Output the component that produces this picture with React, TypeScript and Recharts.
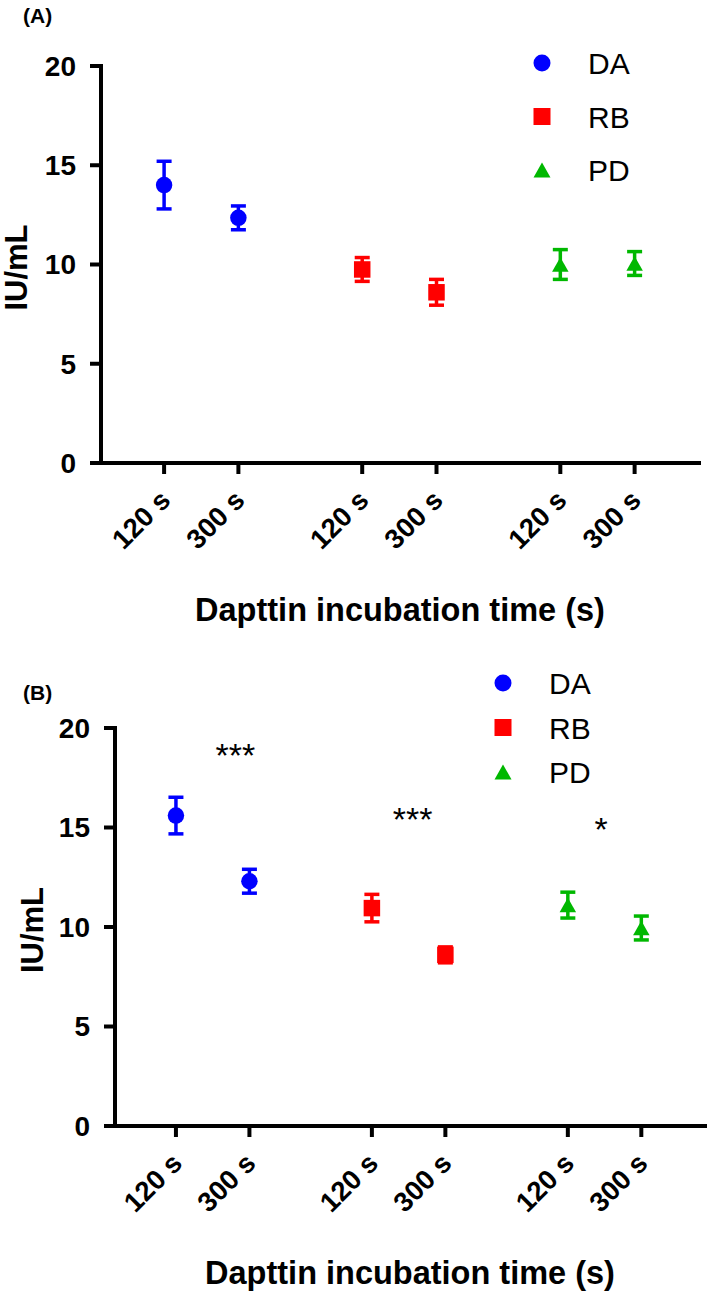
import React from 'react';
import { ScatterChart, Scatter, XAxis, YAxis, ErrorBar, Legend } from 'recharts';

const FONT = '"Liberation Sans", Arial, Helvetica, sans-serif';

// x positions of the six categories (two per group) and their labels
const tickPositions = [0, 0.75, 2, 2.75, 4, 4.75];
const tickLabels = ['120 s', '300 s', '120 s', '300 s', '120 s', '300 s'];
const yTicks = [0, 5, 10, 15, 20];

const seriesNames = ['DA', 'RB', 'PD'];
const seriesColors = ['#0000FF', '#FF0000', '#00B800'];
const seriesShapes = ['circle', 'square', 'triangle'];

// Panel A values (IU/mL) and SD
const aDA = [14.0, 12.35];
const aDAErr = [1.2, 0.6];
const aRB = [9.75, 8.6];
const aRBErr = [0.6, 0.65];
const aPD = [10.0, 10.05];
const aPDErr = [0.75, 0.6];

// Panel B values (IU/mL) and SD
const bDA = [15.6, 12.3];
const bDAErr = [0.92, 0.6];
const bRB = [10.95, 8.6];
const bRBErr = [0.69, 0.4];
const bPD = [11.1, 9.95];
const bPDErr = [0.65, 0.6];

// Panel B significance annotations
const bStars = ['***', '***', '*'];
const bStarX = [0.607, 2.415, 4.34];
const bStarY = [19.0, 15.8, 15.26];

const xDomainA: [number, number] = [-0.637, 5.4];
const xDomainB: [number, number] = [-0.622, 5.4];

const build = (k: number, vals: number[], errs: number[]) =>
  vals.map((v, i) => ({ x: tickPositions[k * 2 + i], y: v, err: errs[i] }));

const drawMarker = (kind: string, color: string, cx: number, cy: number, s: number) => {
  if (kind === 'circle') return <circle cx={cx} cy={cy} r={s / 2} fill={color} />;
  if (kind === 'square') return <rect x={cx - s / 2} y={cy - s / 2} width={s} height={s} fill={color} />;
  const h = s * 0.88;
  return (
    <polygon
      points={`${cx},${cy - h / 2} ${cx - s / 2},${cy + h / 2} ${cx + s / 2},${cy + h / 2}`}
      fill={color}
    />
  );
};

const shapeFor = (kind: string, color: string) => (props: any) => {
  const { cx, cy } = props;
  if (cx == null || cy == null) return <g />;
  return <g>{drawMarker(kind, color, cx, cy, 16.5)}</g>;
};

const StarShape = (props: any) => {
  const { cx, cy, payload } = props;
  return (
    <text x={cx} y={cy + 19} textAnchor="middle" fontFamily={FONT} fontSize={34} fill="#000">
      {payload.label}
    </text>
  );
};

const XTick = (props: any) => {
  const { x, y, payload } = props;
  const i = tickPositions.indexOf(payload.value);
  const ax = x + 8;
  const ay = y + 26;
  return (
    <text
      x={ax}
      y={ay}
      transform={`rotate(-45 ${ax} ${ay})`}
      textAnchor="end"
      fontFamily={FONT}
      fontSize={27.5}
      fontWeight="bold"
      fill="#000"
    >
      {tickLabels[i]}
    </text>
  );
};

const xTitle = (props: any) => {
  const vb = props.viewBox || {};
  return (
    <text
      x={vb.x + vb.width / 2}
      y={vb.y + 158}
      textAnchor="middle"
      fontFamily={FONT}
      fontSize={32.5}
      fontWeight="bold"
      fill="#000"
    >
      Dapttin incubation time (s)
    </text>
  );
};

const yTitle = (bx: number) => (props: any) => {
  const vb = props.viewBox || {};
  const cy = vb.y + vb.height / 2 + 3;
  const x = vb.x + bx;
  return (
    <text
      x={x}
      y={cy}
      transform={`rotate(-90 ${x} ${cy})`}
      textAnchor="middle"
      fontFamily={FONT}
      fontSize={31}
      fontWeight="bold"
      fill="#000"
    >
      IU/mL
    </text>
  );
};

const makeLegend = (cx: number, cy0: number, gap: number, tx: number) => (props: any) => {
  const payload = (props.payload || [])
    .filter((p: any) => seriesNames.includes(p.value))
    .sort((a: any, b: any) => seriesNames.indexOf(a.value) - seriesNames.indexOf(b.value));
  return (
    <svg width={190} height={170}>
      {payload.map((p: any, i: number) => {
        const idx = seriesNames.indexOf(p.value);
        const cy = cy0 + i * gap;
        return (
          <g key={p.value}>
            {drawMarker(seriesShapes[idx], seriesColors[idx], cx, cy, 17)}
            <text x={tx} y={cy + 11} fontFamily={FONT} fontSize={30} fill="#000">
              {p.value}
            </text>
          </g>
        );
      })}
    </svg>
  );
};

const axisStroke = { stroke: '#000', strokeWidth: 4, strokeLinecap: 'square' as const };
const tickStroke = { stroke: '#000', strokeWidth: 4 };

type PanelProps = {
  vals: number[][];
  errs: number[][];
  xDomain: [number, number];
  margin: any;
  yWidth: number;
  yTitleX: number;
  legendPos: { left: number; top: number };
  legendGap: number;
  stars?: boolean;
};

const Panel = ({ vals, errs, xDomain, margin, yWidth, yTitleX, legendPos, legendGap, stars }: PanelProps) => (
  <ScatterChart width={709} height={648} margin={margin}>
    <XAxis
      type="number"
      dataKey="x"
      domain={xDomain}
      ticks={tickPositions}
      interval={0}
      allowDataOverflow
      height={150}
      tickSize={11}
      tickMargin={2}
      axisLine={axisStroke}
      tickLine={tickStroke}
      tick={<XTick />}
      label={xTitle}
    />
    <YAxis
      type="number"
      dataKey="y"
      domain={[0, 20]}
      ticks={yTicks}
      interval={0}
      allowDataOverflow
      width={yWidth}
      tickSize={11}
      tickMargin={14}
      axisLine={axisStroke}
      tickLine={tickStroke}
      tick={{ fontFamily: FONT, fontSize: 28, fontWeight: 'bold', fill: '#000' }}
      label={yTitle(yTitleX)}
    />
    <Legend
      layout="vertical"
      align="center"
      verticalAlign="middle"
      content={makeLegend(22, 23, legendGap, 68)}
      wrapperStyle={{ left: legendPos.left, top: legendPos.top, width: 190, height: 170 }}
    />
    {seriesNames.map((name, k) => (
      <Scatter
        key={name}
        name={name}
        data={build(k, vals[k], errs[k])}
        fill={seriesColors[k]}
        shape={shapeFor(seriesShapes[k], seriesColors[k])}
        isAnimationActive={false}
      >
        <ErrorBar
          dataKey="err"
          direction="y"
          width={7.5}
          strokeWidth={3.5}
          stroke={seriesColors[k]}
          isAnimationActive={false}
        />
      </Scatter>
    ))}
    {stars && (
      <Scatter
        name="sig"
        legendType="none"
        data={bStars.map((s, i) => ({ x: bStarX[i], y: bStarY[i], label: s }))}
        fill="#000"
        shape={StarShape}
        isAnimationActive={false}
      />
    )}
  </ScatterChart>
);

export default function App() {
  return (
    <div style={{ position: 'absolute', left: 0, top: 0, width: 709, height: 1296, background: '#fff' }}>
      <div style={{ position: 'absolute', left: 0, top: 0 }}>
        <Panel
          vals={[aDA, aRB, aPD]}
          errs={[aDAErr, aRBErr, aPDErr]}
          xDomain={xDomainA}
          margin={{ top: 66, right: 10, bottom: 35, left: 0 }}
          yWidth={101}
          yTitleX={27}
          legendPos={{ left: 520, top: 40 }}
          legendGap={53.5}
        />
      </div>
      <div style={{ position: 'absolute', left: 0, top: 648 }}>
        <Panel
          vals={[bDA, bRB, bPD]}
          errs={[bDAErr, bRBErr, bPDErr]}
          xDomain={xDomainB}
          margin={{ top: 80, right: 4, bottom: 20, left: 0 }}
          yWidth={115}
          yTitleX={43}
          legendPos={{ left: 481, top: 12 }}
          legendGap={44.5}
          stars
        />
      </div>
      <svg
        width={709}
        height={1296}
        style={{ position: 'absolute', left: 0, top: 0, pointerEvents: 'none' }}
      >
        <text x={23} y={23} fontFamily={FONT} fontSize={21} fontWeight="bold" fill="#000">
          (A)
        </text>
        <text x={23} y={700} fontFamily={FONT} fontSize={21} fontWeight="bold" fill="#000">
          (B)
        </text>
      </svg>
    </div>
  );
}
